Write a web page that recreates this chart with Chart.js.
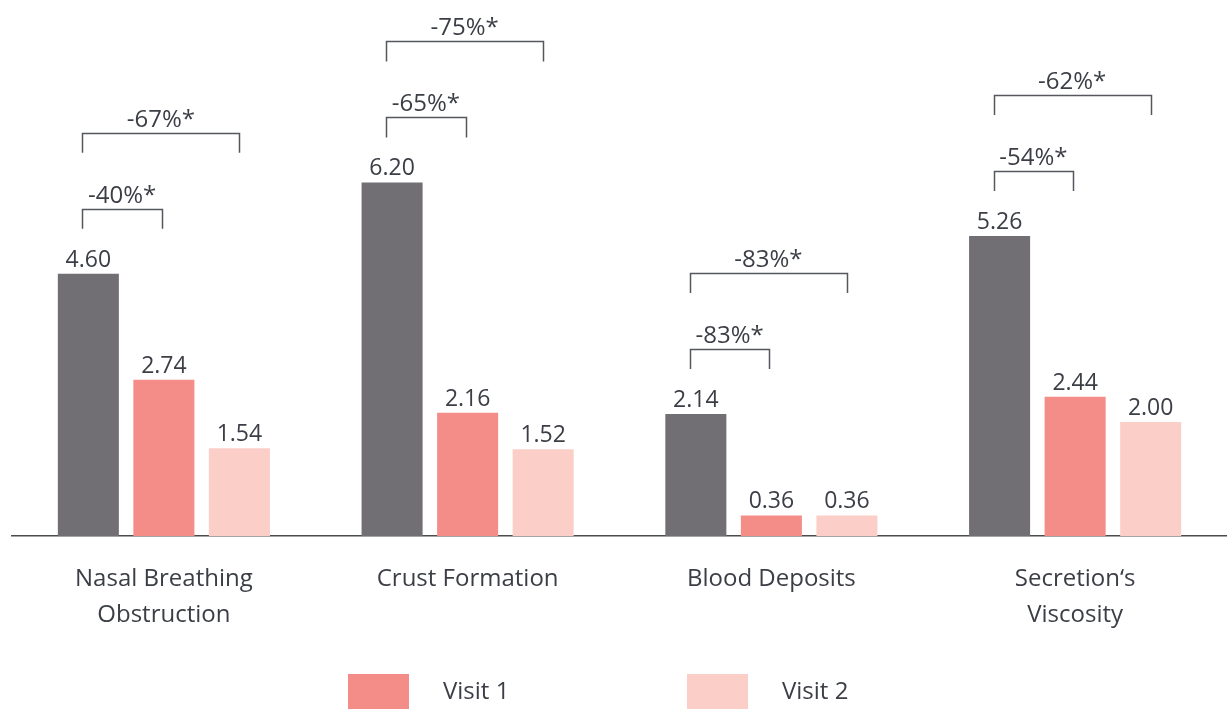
<!DOCTYPE html>
<html>
<head>
<meta charset="utf-8">
<script src="https://cdn.jsdelivr.net/npm/chart.js@4/dist/chart.umd.min.js"></script>
<style>
  html, body { margin: 0; padding: 0; background: #ffffff; }
  #wrap { width: 1227px; height: 709px; position: relative; }
</style>
</head>
<body>
<div id="wrap"><canvas id="c" width="1227" height="709"></canvas></div>
<script>
const categories = [["Nasal Breathing", "Obstruction"], ["Crust Formation"], ["Blood Deposits"], ["Secretion‘s", "Viscosity"]];
const baselineValues = [4.60, 6.20, 2.14, 5.26];
const visit1Values = [2.74, 2.16, 0.36, 2.44];
const visit2Values = [1.54, 1.52, 0.36, 2.00];
const innerBracketLabels = ["-40%*", "-65%*", "-83%*", "-54%*"];
const outerBracketLabels = ["-67%*", "-75%*", "-83%*", "-62%*"];
const seriesNames = ["Baseline", "Visit 1", "Visit 2"];

const TEXT = '#3b3e45';
const LINE = '#55575c';
const FONT = '"Open Sans", "Noto Sans", sans-serif';

const annotPlugin = {
  id: 'annot',
  afterDatasetsDraw(chart) {
    const ctx = chart.ctx;
    const metas = [0, 1, 2].map(i => chart.getDatasetMeta(i));
    ctx.save();
    // value labels
    ctx.font = '23px ' + FONT;
    ctx.fillStyle = TEXT;
    ctx.textAlign = 'center';
    ctx.textBaseline = 'alphabetic';
    metas.forEach((m, di) => {
      m.data.forEach((bar, i) => {
        const v = chart.data.datasets[di].data[i];
        ctx.fillText(v.toFixed(2), bar.x, bar.y - 7);
      });
    });
    // brackets
    ctx.font = '24px ' + FONT;
    ctx.strokeStyle = LINE;
    ctx.lineWidth = 1.5;
    metas[0].data.forEach((gBar, i) => {
      const left = gBar.x - 6;
      const innerRight = metas[1].data[i].x - 2;
      const outerRight = metas[2].data[i].x;
      const innerTop = gBar.y - 65;
      const outerTop = innerTop - 76;
      const drawBracket = (l, r, t, label) => {
        ctx.beginPath();
        ctx.moveTo(Math.round(l) + 0.5, t + 20);
        ctx.lineTo(Math.round(l) + 0.5, Math.round(t) + 0.5);
        ctx.lineTo(Math.round(r) + 0.5, Math.round(t) + 0.5);
        ctx.lineTo(Math.round(r) + 0.5, t + 20);
        ctx.stroke();
        ctx.fillText(label, (l + r) / 2, t - 6);
      };
      drawBracket(left, innerRight, innerTop, innerBracketLabels[i]);
      drawBracket(left, outerRight, outerTop, outerBracketLabels[i]);
    });
    // legend (Visit 1, Visit 2)
    const legendX = [348, 687];
    [1, 2].forEach((di, k) => {
      const ds = chart.data.datasets[di];
      ctx.fillStyle = ds.backgroundColor;
      ctx.fillRect(legendX[k], 674, 61, 35);
      ctx.fillStyle = TEXT;
      ctx.textAlign = 'left';
      ctx.textBaseline = 'middle';
      ctx.font = '24px ' + FONT;
      ctx.fillText(ds.label, legendX[k] + 95, 692);
    });
    ctx.restore();
  }
};

new Chart(document.getElementById('c'), {
  type: 'bar',
  data: {
    labels: categories,
    datasets: [
      { label: seriesNames[0], data: baselineValues, backgroundColor: '#716f74' },
      { label: seriesNames[1], data: visit1Values, backgroundColor: '#f48c88' },
      { label: seriesNames[2], data: visit2Values, backgroundColor: '#fbcec8' }
    ]
  },
  options: {
    responsive: false,
    animation: false,
    layout: { padding: { left: 12, right: 0, top: 0, bottom: 0 } },
    datasets: { bar: { barPercentage: 0.808, categoryPercentage: 0.746 } },
    plugins: { legend: { display: false }, tooltip: { enabled: false } },
    scales: {
      x: {
        grid: { display: false, drawTicks: false },
        border: { display: true, color: '#4a4c50', width: 1.5 },
        ticks: {
          color: TEXT,
          font: { family: FONT, size: 24, lineHeight: 36 / 24 },
          padding: 25,
          maxRotation: 0
        },
        afterFit(scale) { scale.height = 173; }
      },
      y: {
        display: false,
        min: 0,
        max: 9.4
      }
    }
  },
  plugins: [annotPlugin]
});
</script>
</body>
</html>
